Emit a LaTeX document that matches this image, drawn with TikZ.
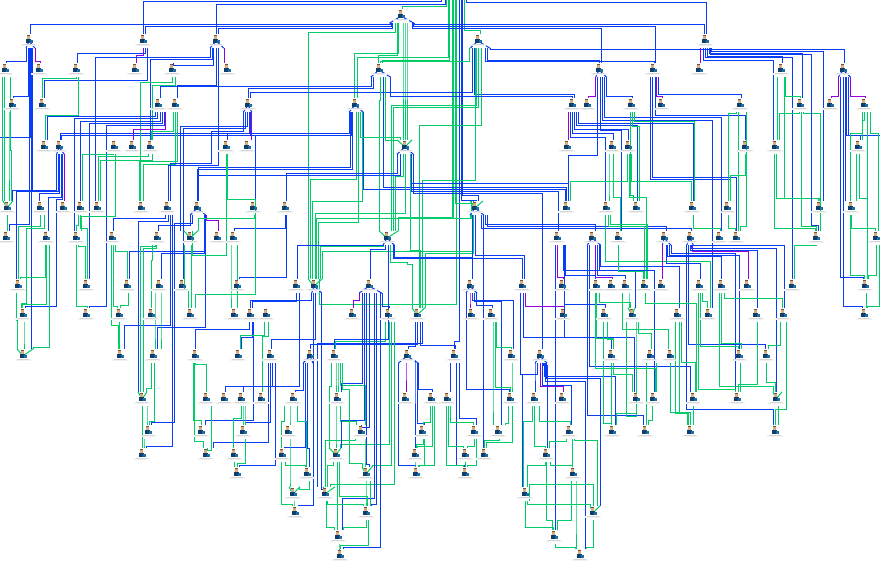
\documentclass[tikz,border=0pt]{standalone}
\usepackage{tikz}
\usetikzlibrary{arrows.meta}
\definecolor{linkblue}{RGB}{8,60,245}
\definecolor{linkgreen}{RGB}{0,205,105}
\definecolor{linkpurple}{RGB}{150,0,225}
\definecolor{hairbrown}{RGB}{120,82,48}
\definecolor{skintan}{RGB}{214,172,124}
\definecolor{shirtnavy}{RGB}{14,62,110}
\definecolor{deskteal}{RGB}{28,110,165}
\tikzset{
  bl/.style={line width=1pt,draw=linkblue},
  gr/.style={line width=1pt,draw=linkgreen},
  pu/.style={line width=1pt,draw=linkpurple},
  person/.style={inner sep=0pt,minimum width=12pt,minimum height=14pt},
  pics/worker/.style={code={
    \fill[black!5] (-8,2.8) rectangle (8,4.8);
    \fill[black!16] (-6,3.4) rectangle (6,4.3);
    \fill[hairbrown] (-2.5,-6) rectangle (1,-4.7);
    \fill[skintan] (-2,-4.7) rectangle (1.2,-2.2);
    \fill[shirtnavy] (-3,-2.2) rectangle (2,2);
    \fill[deskteal] (0.8,-0.6) rectangle (4,2);
  }}
}
% leg of a link: down from the parent, along a bus, down into the child
\newcommand{\links}[1]{\foreach \c/\a/\sx/\ym/\b/\tx in {#1}{
  \draw[\c] (\sx,0 |- \a.south) -- (\sx,\ym) -- (\tx,\ym) -- (\tx,0 |- \b.north);}}
% same with a jog on the way
\newcommand{\jogs}[1]{\foreach \c/\a/\sx/\ym/\xm/\yn/\b/\tx in {#1}{
  \draw[\c] (\sx,0 |- \a.south) -- (\sx,\ym) -- (\xm,\ym) -- (\xm,\yn) -- (\tx,\yn) -- (\tx,0 |- \b.north);}}
\begin{document}
\begin{tikzpicture}[x=1pt,y=-1pt]
  \useasboundingbox (0,0) rectangle (880,568);
  \node[inner sep=0pt] (root) at (455,-6) {};
  \node[inner sep=0pt] (edgeL) at (-4,200) {};
  \node[inner sep=0pt] (edgeR) at (884,200) {};
  % rows of people
  \foreach \r/\y/\xs in {a/14/{401},
     b/39/{29,143,216,478,705},
     c/68/{5,39,76,135,172,227,379,599,653,699,781,843},
     d/103/{12,42,158,175,248,355,572,587,631,661,740,800,830,864},
     e/145/{44,59,114,132,150,226,247,405,567,612,628,745,775,858},
     f/206/{7,40,63,80,97,141,167,197,253,285,475,566,606,636,692,727,819,851},
     g/236/{6,46,76,112,157,190,217,233,387,557,592,618,664,690,719,736,816,876},
     h/284/{18,86,127,159,182,237,296,314,369,470,522,562,596,611,625,644,661,699,721,747,792,865},
     i/313/{23,86,119,151,190,234,250,266,352,388,417,471,491,563,604,632,677,708,756,783,864},
     j/354/{23,120,153,195,238,270,310,334,407,454,511,540,611,650,670,739,766},
     k/397/{142,206,224,241,261,293,337,405,431,447,510,534,562,636,653,693,737,776},
     l/430/{148,201,243,288,361,422,474,498,569,612,645,690,775},
     m/453/{142,206,234,282,336,415,465,484,546},
     n/472/{237,307,366,416,465,573},
     o/492/{293,325,525},
     p/511/{295,366,593},
     q/535/{338,554},
     r/554/{340,580}}
     \foreach \x in \xs {\node[person] (\r\x) at (\x,\y+2) {};}
  % from the top
  \links{bl/root/441.5/1.5/b143/143,bl/root/445/4/b216/216,bl/root/466/2.3/b705/706,
    gr/root/446/6.7/a401/402,gr/root/464/30/b478/480,gr/root/448/57.3/d355/357,gr/root/449/60/c379/382,
    gr/root/456.7/304/h314/319.3,gr/root/452/217/g387/398.3,bl/root/459/341.7/j454/454,
    gr/root/453.5/218/f475/471,gr/root/455/203/f475/473,bl/root/461/200/f475/476,bl/root/462.5/195/f475/478}
  % a401
  \links{bl/a401/390/24.7/b29/30,bl/a401/391/26.7/b143/145,bl/a401/392/28.5/b216/218,
    bl/a401/414/24.7/b705/704,bl/a401/413/26/c653/655,bl/a401/412/28/c599/601.5,
    gr/a401/395/32/h314/308,gr/a401/398/53/d355/354.5,gr/a401/397/55/c379/378,
    gr/a401/403/60/e405/403,gr/a401/405/60/e405/405,gr/a401/407/60/e405/407}
  % b478, c379, d355, e405
  \links{bl/b478/490/49.3/c843/844,bl/b478/487.7/60/c599/599,bl/b478/485.7/61.3/c653/654,
    gr/b478/469/61.7/c379/380,bl/b478/472/92.7/d248/250,bl/b478/474/94.7/d572/574,
    gr/b478/476/105/g387/391,gr/b478/478/107/g387/393.3,gr/b478/475/180/i417/422.7,gr/b478/481/125/i417/419}
  \links{bl/c379/371/86/d158/160.7,bl/c379/373/88.3/d248/248.5,bl/c379/390/96.7/d572/572.7,
    gr/c379/380/100/g387/379.5,gr/c379/385/140/e405/397,bl/c379/383/187.3/f566/566.7}
  \links{bl/d355/349/133.3/e59/60,bl/d355/351/135.7/e59/61.7,bl/d355/350/167/f197/198,bl/d355/352/169/f197/197,
    gr/d355/356.7/179.3/h314/310.7,gr/d355/362/201/h314/312.7,gr/d355/358.5/222.7/h314/318.3,
    bl/d355/363.3/189.3/f566/565,gr/d355/360/137/e405/400}
  \links{bl/e405/397/173/f285/286,bl/e405/400/175/f197/198.6,gr/e405/405/213/h314/315,
    gr/e405/403/176.7/g387/395.7,bl/e405/411.7/183.7/f566/568,bl/e405/411.7/191.7/g557/558.3,
    bl/e405/413.3/193.3/j540/542.3,gr/e405/410/250/i417/420.7}
  \links{gr/f475/470/218/h314/316.7,gr/f475/472/251.7/h314/322.3,gr/f475/473/253/i417/425,
    bl/f475/472.5/240/h470/472.5,bl/f475/475/255/h522/524,bl/f475/485/224/g592/595,bl/f475/487/226/g664/666,
    bl/f475/481/228/g690/691.7,bl/f475/483/240/m484/483.3}
  % left block
  \links{bl/b29/26/61.7/c5/6,pu/b29/35/61.7/c39/40.7,bl/b29/28.3/96/d12/13.3,bl/b29/29.3/224/g6/9.3,
    bl/b29/30.5/137/edgeL/-2,bl/b29/31.7/240/j23/31.7,bl/b29/32.7/190/f7/12.7,
    gr/c5/2.7/150/f7/2.7,gr/c5/4.7/150/f7/4.7,gr/c5/10/150/f7/11,gr/d12/9/160/f7/9,gr/f7/7.3/220/g6/7.3}
  \links{bl/b143/147/80/d42/44.3,bl/b143/145.5/53.3/c76/77,pu/b143/143.3/55/c135/136,
    bl/b216/210/57.3/f97/95,bl/b216/212/59.5/e150/150,bl/b216/213.3/65/c172/173,bl/b216/216.7/85/d175/177,
    pu/b216/224.3/60/c227/224.3,bl/b216/218/165/f167/168.3,
    gr/c172/172/82/f141/140,gr/c172/175.7/85/e150/152,gr/c76/76.7/78.3/d42/42.3,gr/c76/78.3/115/e44/45.7}
  \links{bl/d158/155/116.7/e44/47,bl/d158/157.7/118.7/g76/74,bl/d158/160/121/f80/80,bl/d158/162.7/123.3/h86/89,
    pu/d158/165/129.3/e132/133,gr/d175/175/164.3/f141/143,gr/d175/177.5/161/f141/139,gr/d175/173/131.7/e150/151}
  \jogs{bl/d158/164/125.7/106/306/i86/89}
  \links{bl/d248/247.3/126/g190/180,bl/d248/245/128.3/h182/183,bl/d248/249.3/133/e226/227.3,
    pu/d248/251.7/120/e247/251.7,bl/d248/250/135/f253/255.7}
  \jogs{bl/d248/243.3/131.7/211.7/163/f167/170}
  \links{bl/e59/56.7/190/f7/12.7,bl/e59/58/191.7/h18/16,bl/e59/59/193/f40/39,bl/e59/61/197/g46/48,
    pu/e59/64.3/160/f63/64.3,gr/e114/115/216.7/g76/81.7,gr/e114/113.3/154/f80/82.3,
    gr/e150/148.3/156.7/f97/98.3,gr/e150/152.3/160.7/f97/100}
  \jogs{bl/e59/62.7/199.3/56.7/306/i23/25}
  \links{gr/f40/40.7/226.7/h18/18.3,gr/g46/45/277/h18/20,gr/g46/46/304/i23/22.7,gr/g46/49.3/347/j23/33,
    gr/h18/16.7/320/j23/17,gr/i23/24/340/j23/24}
  \jogs{gr/f40/44/228.3/26.7/303/i23/21}
  \links{gr/f80/78/225/g76/76,gr/f80/80/228/h86/87,gr/g76/76/306.7/i86/87,gr/g76/78.3/246/h86/85.7,
    bl/f167/165.7/218.3/g112/113.3,bl/f167/168.3/221/k142/138,bl/f167/170/325.7/j120/124,bl/f167/172.3/446.7/m142/146.7,
    bl/f197/190/225/g157/158,bl/f197/205/251.7/h127/129.3,bl/f197/204/253.3/h159/161,bl/f197/205.7/327/j153/157.3,
    pu/f197/206/220/g217/218.3,gr/f253/254.7/218/g190/198,bl/f285/285/228.3/g233/234.3,bl/f285/286.3/277.3/h237/239.3}
  \jogs{bl/f197/192.7/223/174.5/422.7/l148/151,gr/e226/227.3/199.3/255.3/294/i190/195}
  \links{gr/g112/111/325/j120/118.3,gr/g112/113.3/306/i119/117,gr/g112/115.7/251.7/h127/127.7,
    gr/h127/128/305/i119/120,gr/i119/119/330/j120/119.5,gr/g190/184.5/290/i190/188,gr/g190/191.7/290/i190/191.7,
    gr/e226/226.7/255/g190/192.7,gr/g233/231/290/i234/231,gr/g233/237.3/290/i234/237.3,
    gr/g157/155/246/k142/140,gr/g157/156/248/k142/143.3,gr/g157/152/260/i151/151.7,gr/h159/155/330/j153/155,gr/h159/161/330/j153/161,
    gr/j153/151/388/k142/146,gr/j153/154.3/421/l148/149,gr/k142/142.3/420/m142/142.3,gr/k142/147/420/l148/147,gr/l148/144/445/m142/144}
  % middle bottom left
  \links{bl/h314/311.7/300/i250/250,bl/h296/296.7/301.7/i250/252,bl/i250/249.3/329.3/j195/195.3,bl/i250/252.3/337.3/j238/241.7,
    bl/i250/253.3/420.7/l201/205,gr/i266/264/335/j238/240,gr/i266/268.3/336.7/k261/262.3,
    bl/h314/315/339/j270/271,bl/j270/268.3/442.7/m206/213,bl/j270/270.7/422.7/l243/245,bl/j270/272.7/386/k241/243,bl/j270/275/465/n237/239.3,
    bl/h296/299.3/386/k224/225.7,bl/j310/303/390/k293/295,bl/i417/417.7/344/j310/310.7,bl/h314/313.3/505/p295/298.3,
    bl/i417/422/343/o325/317.3,bl/h314/321.7/489/o325/323.5}
  \links{gr/j195/193.3/420/l201/201.7,gr/j195/195.3/364/k206/206.7,gr/j195/194/441.7/m206/203,gr/k206/211.7/450/m206/207,
    gr/k241/241/418/m234/233.7,gr/k241/243/420/l243/243,gr/k241/245/420/l243/245,gr/l243/245.7/463/n237/237.3,gr/m234/234.5/465/n237/234.5,
    bl/j310/305/447/m282/284,bl/j310/307.3/448.3/n307/309}
  \links{gr/k293/290/420/l288/290,gr/k293/284/421/m282/281.7,gr/k293/297/421/n307/306.7,gr/m282/285/465/n307/305,gr/n307/309.3/489/o293/299,
    gr/m282/281.5/504.3/p295/292.3,gr/o293/294/505/p295/294,gr/l288/290/480/o293/290}
  \links{gr/i388/385.7/341.7/j334/335,gr/j334/331/386/m336/329.5,gr/j334/336/380/k337/336,gr/j334/338/380/k337/338,gr/j334/340/385/l361/365,
    gr/i388/389/444.3/m336/340,gr/i388/394/484/o325/330,gr/i388/391/465/n366/372,gr/l361/355/440/o325/325,gr/k337/336/440/m336/336,gr/k337/340/421/l361/356,gr/l361/365/460/n366/365,
    bl/h369/362/383.3/k337/341,bl/h369/364/420/m336/341,bl/h369/366.7/464/n366/369,bl/h369/369/427/l361/361,bl/h369/376.7/504/p366/371,bl/h369/374.3/498.3/q338/342.3,bl/h369/380/547.3/r340/343.3,
    pu/h369/359.5/300.7/i352/353.5,bl/h369/382/306.7/i388/389.3}
  \jogs{gr/j334/342/389/349.3/463.7/n366/362.7}
  \links{gr/m336/333/465/o325/327,gr/m336/337.3/500/q338/337.3,gr/m336/339.3/496/p366/367,gr/o325/326/527.7/q338/334,gr/o325/327.7/504.3/p366/363.3,
    gr/n366/366/500/p366/366,gr/n366/370.7/500/p366/370,gr/p366/368/545/r340/340,gr/p366/366/527.7/q338/343,gr/q338/339/550/r340/339}
  % g387 and i417
  \links{gr/g387/383/246.7/h314/320,bl/g387/385/249.3/h369/370,bl/g387/383.3/245/h296/297.3,bl/g387/388.3/339/j334/334,bl/g387/393.3/258.3/h522/522.3,
    bl/g387/394.3/257/h470/472}
  \jogs{gr/g387/390/262/407/264/i417/412}
  \links{bl/i417/415/346.5/j407/408.3,bl/i417/420/345.3/j454/455}
  % j407, j454, h470, h522
  \links{bl/j407/398.3/465/n416/415,bl/j407/415/360/m415/415,bl/j407/418.3/389.3/k431/432.3,bl/j407/417.3/423/l422/424.3,pu/j407/406/370/k405/406,
    gr/k431/430.7/422.7/l422/423,gr/k431/432.7/446.7/m415/417,gr/k431/434.7/465/n416/419,gr/l422/423/444/m415/416,gr/l422/424/465/n416/418,gr/m415/415/466/n416/415}
  \links{bl/j454/450.7/370/k447/450.7,bl/j454/459/418/l474/476,bl/j454/456.7/465/n465/464,gr/k447/446/465/n465/463,gr/k447/448.3/446.7/m465/463,gr/k447/450.7/422.7/l474/473,
    gr/l474/474/446.7/m465/467.3,gr/l474/476.7/465/n465/467.3,gr/m465/465.5/466/n465/465.5}
  \links{pu/h470/470/300/i471/470,bl/h470/476/305/i491/492,bl/h470/466/389.3/k510/509.3,bl/h470/474/301/l498/501.7,bl/h470/472/300.7/j511/513.3,
    gr/i491/496/347/j511/511,gr/i491/495.5/387/k510/510,gr/i491/493/400/l498/493,gr/j511/512/385/k510/512,gr/k510/512.3/442/m484/486,gr/k510/508/423/l498/505,gr/l498/499/440/m484/484,
    pu/h522/525/306.7/i563/564.3,bl/h522/523.3/337/j611/611.7,bl/h522/520.7/374/o525/522}
  % j540 and the foot of the tree
  \links{bl/j540/535/370/k534/535,bl/j540/537.3/374/o525/522,bl/j540/542/385/l569/571.7,bl/j540/546/378/p593/600,bl/j540/545/381.7/r580/585.7,bl/j540/543/365/m546/547.3,
    bl/j540/544/376/l612/615.7,pu/j540/540.7/386.7/k562/563.3,bl/g557/555.7/400/q554/555.7}
  \links{gr/k534/532.7/421.7/o525/523.3,gr/k534/534.3/446.7/m546/545,gr/k534/539/421.7/l569/570,gr/l569/566.7/441/m546/549,gr/l569/572.3/450/n573/572.3,gr/l569/574.3/440.7/p593/597,
    gr/o525/525/527/q554/553,gr/o525/527.3/504/p593/590,gr/o525/529/484/p593/593,gr/m546/545/465/o525/527.5,gr/m546/546.7/520/q554/552,gr/m546/550/465/n573/572.7,
    gr/n573/576/520/r580/576,gr/n573/571/520/q554/557,gr/p593/593/547/r580/586,gr/q554/555/547/r580/575}
  % c599, c653, d572
  \links{pu/c599/595.7/96.7/d587/588.3,bl/c599/606.7/96.7/d631/632.7,bl/c599/604.3/117.3/g719/721,bl/c599/602/120/i708/712.3,bl/c599/600/130/g618/621,bl/c599/597.3/155/f566/568.3,
    pu/c653/656.7/96.7/d661/662.7,bl/c653/658.3/94.3/d740/741.7,bl/c653/652.7/177/g736/736,bl/c653/650.7/179.3/f727/730,bl/c653/655/115.7/e745/745,
    pu/d572/568.5/130/e567/568.5,bl/d572/572.7/133/e612/613.3,bl/d572/576.7/125.7/f636/637.3,bl/d572/574.7/129.3/e628/628.3,bl/d572/578.3/123.3/f692/693.3,bl/d572/570.7/137.3/f606/605.7}
  \links{gr/d631/630/195/f636/633,gr/d631/632/126.7/f636/639.3,gr/d631/634.3/121.7/f692/694.3,gr/e612/609/190/f606/609,gr/e612/613.3/197/g618/620,
    gr/e628/627.3/181.7/f566/570.7,gr/e628/629.3/197/h644/646.7,gr/e628/631.7/181.7/f692/691.7,
    gr/d740/736.7/113/f727/728.3,gr/d740/738.3/200/g736/738.3,gr/d740/746.7/226/g736/740,gr/e745/745/175/f727/730,
    gr/f727/728.3/228/g736/735.7,gr/f692/693.3/228.3/g719/720,gr/f606/605.7/261.7/i708/710,gr/f606/608.3/226.7/h644/644,gr/f606/610/224/h644/647.3}
  % g592, g664, g690
  \links{bl/g592/587.3/415/l645/643.5,bl/g592/589.3/366.7/k693/690.7,bl/g592/599.3/270/i632/635.3,bl/g592/597.3/275/h625/625,bl/g592/600.7/266.7/i677/679.3,pu/g592/595.7/277.7/h611/612.3,
    pu/g664/662.3/260/h661/662,bl/g664/669.3/255/j739/739.3,bl/g664/667.3/256.7/h721/721.7,bl/g664/666/263/h699/700.7,bl/g664/671/253/k737/735,
    pu/g690/692.3/251.7/h747/748.3,bl/g690/693.3/245/i783/784,bl/g690/691.7/248.3/k776/776.7,bl/g690/690/250/i756/757.3,bl/g690/688.3/344.7/j766/765,bl/g690/686.7/409/l775/773}
  \links{bl/g557/565/275/h596/595,bl/g557/564.5/304.3/i604/605,bl/g557/563.3/270/k653/654,bl/g557/564/337/k636/634,pu/g557/557.7/277.3/h562/563.3,
    gr/g618/618.3/271.7/h644/643.3,gr/h596/595.7/368.3/k653/655,gr/h596/596.7/338/j611/613.3,gr/h596/599.3/302/i632/630,
    gr/h625/622.3/329/j670/668.3,gr/h625/629/300/i632/629,gr/h644/645.7/303.7/k693/696.7}
  \links{gr/i604/603.3/423/l612/611.7,gr/i604/607.3/339/j611/613.3,gr/j611/611.7/400/l612/611.7,gr/j611/613.3/374/k636/632,gr/k636/636.7/413/l612/616.7,
    gr/i632/626.7/416.7/k636/636.7,gr/i632/636/340/k636/636,gr/i632/638.3/333.3/j650/651,gr/j650/646.7/380/l645/646.7,gr/j650/656.7/380/k653/656.7,gr/k653/652.7/420/l645/648,
    gr/j670/670.7/412.7/l690/688,gr/i677/675.7/413/l690/687,gr/i677/679/412/l690/690,gr/i677/681/362.7/k693/695,gr/k693/693/415/l690/693}
  \links{gr/h699/698.3/389/k737/735,gr/h699/700/346.7/j739/738.3,gr/h699/702.3/301/i708/707.3,gr/h721/719.3/386/k776/773,gr/h721/721.3/343/j739/741,gr/h721/724/298.3/i783/782.7,
    gr/i756/757.3/384/k737/738,gr/j739/740/380/k737/740,gr/i783/786.7/409/l775/775,gr/i783/780/345/j766/768,gr/j766/766/382/k776/775,gr/k776/778/410/l775/778}
  % right block
  \links{pu/b705/700.7/55/c699/700.7,bl/b705/703.3/60.7/e775/773.3,bl/b705/705.3/57.3/h792/792.7,bl/b705/707/56/c781/782,bl/b705/709/53.3/d800/802.7,bl/b705/711/51.7/f819/823,
    gr/c781/777.3/100/e775/777.3,gr/c781/784/198/f819/819.3,gr/c781/785.7/96.7/d800/800,gr/d800/799.3/113.3/e775/779.3,gr/d800/801.7/226.7/g816/816.7,gr/d800/803.3/113.3/g816/820,
    gr/e775/774.3/228.3/g816/815,gr/e775/776.7/198/f819/818,gr/g816/816/245/h792/794.7}
  \jogs{bl/b705/710/54.7/811.7/225/g816/818}
  \links{pu/c843/838.3/96.7/d830/831.7,pu/c843/850.7/96.7/d864/865.7,bl/c843/840.7/277/h865/863.7,bl/c843/843.3/306.7/i864/862,bl/c843/846/135.7/e858/860,bl/c843/848/135.7/edgeR/884,bl/c843/845.7/180/f851/845.7,
    gr/d864/862.3/133.3/f851/850.7,gr/d864/864/120/e858/862,gr/d864/867.7/240/h865/867.7,gr/e858/856/180/f851/856,gr/e858/859.3/198/h865/867,
    gr/f851/851.7/228.3/g876/875,gr/f851/850/275/h865/864,gr/g876/876.7/275/h865/868,gr/g876/879/306.7/i864/867,gr/h865/866.7/300/i864/866.7}
  \jogs{gr/d864/870/133/878/228/g876/878}
  % roofs over the ports and funnels over the heads
  \foreach \a/\l/\r in {a401/389.5/414,b478/470/490,c379/370.7/390.7,d355/349/363.3,e405/397/413.3,f475/470/484,g387/383/394.3,h369/359/382,f197/190/206,
     j540/535/547,g592/587.3/600.7,j407/398.3/418.3,h470/466/477,d248/243.3/251.7,b216/210/224,h314/311.7/322,j310/303/313,g690/686.7/693.3,g664/662.3/671,c599/595.7/606.7,c843/838.3/850.7,b29/26/35,e59/56.7/64.3}
    \draw[bl] (\l,0 |- \a.south) -- (\a.center) -- (\r,0 |- \a.south);
  \foreach \a/\l/\r in {h314/308/322.3,i417/412/425,g387/379/398.3,e405/397/412,f475/470/483,p593/590/600,o293/289/300,o325/323/335,n366/362/372,j23/17/33,f7/3/13,g190/184/198,m336/329/341,k142/138/147,i632/628/635,k776/773/782}
    \draw[gr] (\l,0 |- \a.north) -- (\a.center) -- (\r,0 |- \a.north);
  % people
  \foreach \r/\y/\xs in {a/14/{401},
     b/39/{29,143,216,478,705},
     c/68/{5,39,76,135,172,227,379,599,653,699,781,843},
     d/103/{12,42,158,175,248,355,572,587,631,661,740,800,830,864},
     e/145/{44,59,114,132,150,226,247,405,567,612,628,745,775,858},
     f/206/{7,40,63,80,97,141,167,197,253,285,475,566,606,636,692,727,819,851},
     g/236/{6,46,76,112,157,190,217,233,387,557,592,618,664,690,719,736,816,876},
     h/284/{18,86,127,159,182,237,296,314,369,470,522,562,596,611,625,644,661,699,721,747,792,865},
     i/313/{23,86,119,151,190,234,250,266,352,388,417,471,491,563,604,632,677,708,756,783,864},
     j/354/{23,120,153,195,238,270,310,334,407,454,511,540,611,650,670,739,766},
     k/397/{142,206,224,241,261,293,337,405,431,447,510,534,562,636,653,693,737,776},
     l/430/{148,201,243,288,361,422,474,498,569,612,645,690,775},
     m/453/{142,206,234,282,336,415,465,484,546},
     n/472/{237,307,366,416,465,573},
     o/492/{293,325,525},
     p/511/{295,366,593},
     q/535/{338,554},
     r/554/{340,580}}
     \foreach \x in \xs {\pic at (\r\x.center) {worker};}
\end{tikzpicture}
\end{document}
